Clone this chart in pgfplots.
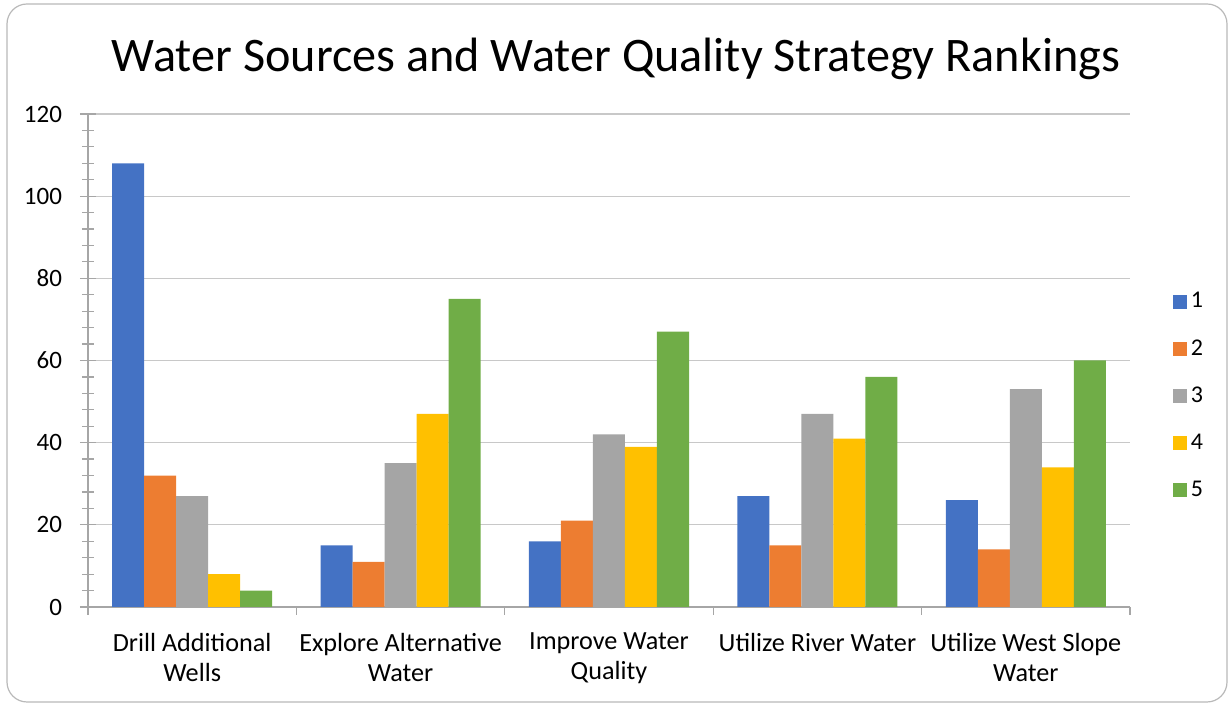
\documentclass[border=0pt]{standalone}
\usepackage{fontspec}
\setmainfont{Carlito}
\usepackage{pgfplots}
\pgfplotsset{compat=1.18}
\definecolor{c1}{HTML}{4472C4}
\definecolor{c2}{HTML}{ED7D31}
\definecolor{c3}{HTML}{A5A5A5}
\definecolor{c4}{HTML}{FFC000}
\definecolor{c5}{HTML}{70AD47}
\definecolor{axgray}{HTML}{A6A6A6}
\definecolor{gridgray}{HTML}{C8C8C8}
\begin{document}
\begin{tikzpicture}
\useasboundingbox (0,0) rectangle (614pt,352pt);
\draw[rounded corners=10pt, color=gray!55, line width=0.6pt] (3.5pt,1pt) rectangle (613.5pt,350pt);
\node[font=\fontsize{24.1}{28}\selectfont] at (308pt,322.5pt) {Water Sources and Water Quality Strategy Rankings};
\begin{axis}[
  at={(44pt,48.5pt)}, anchor=south west,
  scale only axis, width=521pt, height=246.5pt,
  ybar=0pt, bar width=16pt,
  xmin=-0.5, xmax=4.5, ymin=0, ymax=120,
  axis lines*=left,
  axis line style={axgray, line width=0.6pt},
  ytick={0,20,...,120}, minor y tick num=4,
  ytick align=center,
  ymajorgrids, major grid style={gridgray, line width=0.6pt},
  major tick length=8pt, minor tick length=6pt,
  tick style={axgray, line width=0.6pt},
  xtick={0,1,2,3,4},
  x tick style={draw=none},
  xticklabels={{Drill Additional\\Wells},{Explore Alternative\\Water},{Improve Water\\Quality},{Utilize River Water},{Utilize West Slope\\Water}},
  xticklabel style={align=center, font=\fontsize{13.1}{15}\selectfont, yshift=-1.5pt},
  extra x ticks={-0.5,0.5,1.5,2.5,3.5,4.5},
  extra x tick labels={},
  extra x tick style={xtick align=outside, major tick length=4pt, x tick style={draw=axgray, line width=0.6pt}},
  yticklabel style={font=\fontsize{12.5}{14}\selectfont, xshift=-5.5pt},
  /pgf/number format/assume math mode=true,
  legend style={at={(1.035,0.655)}, anchor=north west, draw=none, fill=none,
    font=\fontsize{12}{14}\selectfont, row sep=10.3pt},
  legend cell align=left,
  legend image code/.code={\fill[#1] (0pt,-3.5pt) rectangle (7pt,3.5pt);},
]
\addplot[fill=c1, draw=none] coordinates {(0,108) (1,15) (2,16) (3,27) (4,26)};
\addplot[fill=c2, draw=none] coordinates {(0,32) (1,11) (2,21) (3,15) (4,14)};
\addplot[fill=c3, draw=none] coordinates {(0,27) (1,35) (2,42) (3,47) (4,53)};
\addplot[fill=c4, draw=none] coordinates {(0,8) (1,47) (2,39) (3,41) (4,34)};
\addplot[fill=c5, draw=none] coordinates {(0,4) (1,75) (2,67) (3,56) (4,60)};
\legend{1,2,3,4,5}
\end{axis}
\end{tikzpicture}
\end{document}
